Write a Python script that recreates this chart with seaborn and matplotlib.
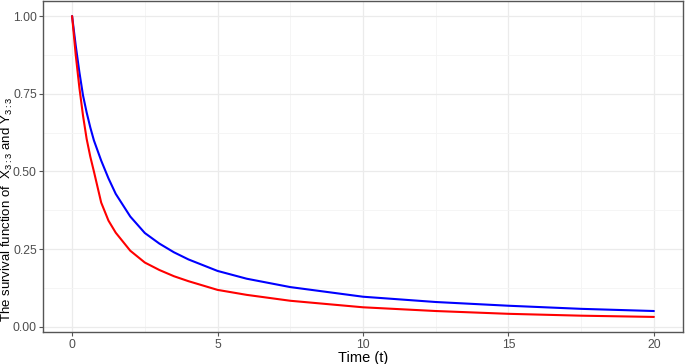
import numpy as np
import pandas as pd
import matplotlib
matplotlib.use("Agg")
import matplotlib.pyplot as plt
import seaborn as sns

# values
time_t = [0, 0.125, 0.25, 0.375, 0.5, 0.625, 0.75, 1.0, 1.25, 1.5, 2.0, 2.5, 3.0,
          3.5, 4.0, 5.0, 6.0, 7.5, 10, 12.5, 15, 17.5, 20]
surv_x = [1.0, 0.905, 0.82, 0.745, 0.69, 0.642, 0.60, 0.535, 0.478, 0.428, 0.355,
          0.302, 0.268, 0.24, 0.217, 0.18, 0.155, 0.128, 0.097, 0.08, 0.068, 0.058,
          0.051]
surv_y = [1.0, 0.875, 0.77, 0.68, 0.605, 0.548, 0.5, 0.40, 0.342, 0.303, 0.245,
          0.207, 0.183, 0.163, 0.147, 0.119, 0.103, 0.084, 0.063, 0.051, 0.042,
          0.036, 0.032]
x_ticks = [0, 5, 10, 15, 20]
y_ticks = [0.0, 0.25, 0.5, 0.75, 1.0]

sns.set_theme(style="whitegrid")
plt.rcParams["font.family"] = ["Liberation Sans", "DejaVu Sans"]
plt.rcParams["mathtext.fontset"] = "custom"
plt.rcParams["mathtext.rm"] = "Liberation Sans"
plt.rcParams["mathtext.it"] = "Liberation Sans:italic"
plt.rcParams["mathtext.default"] = "regular"

df = pd.DataFrame({"t": time_t + time_t,
                   "s": surv_x + surv_y,
                   "curve": ["X"] * len(time_t) + ["Y"] * len(time_t)})

fig = plt.figure(figsize=(6.85, 3.64), dpi=100)
ax = fig.add_axes([43 / 685, 1 - 332 / 364, 640 / 685, 331 / 364])

sns.lineplot(data=df, x="t", y="s", hue="curve", palette={"X": "#0000FF", "Y": "#FF0000"},
             linewidth=1.5, legend=False, ax=ax)

ax.set_xlim(-1, 21)
ax.set_ylim(-0.0165, 1.0485)
ax.set_xticks(x_ticks)
ax.set_yticks(y_ticks)
ax.set_xticklabels([str(v) for v in x_ticks])
ax.set_yticklabels([f"{v:.2f}" for v in y_ticks])
ax.set_xticks([2.5, 7.5, 12.5, 17.5], minor=True)
ax.set_yticks([0.125, 0.375, 0.625, 0.875], minor=True)

ax.grid(which="major", color="#EBEBEB", linewidth=0.9)
ax.grid(which="minor", color="#F4F4F4", linewidth=0.6)
ax.set_axisbelow(True)

for sp in ax.spines.values():
    sp.set_color("#555555")
    sp.set_linewidth(1.0)

ax.tick_params(axis="both", which="major", length=3, width=0.8, color="#555555",
               labelsize=8.8, labelcolor="#4D4D4D", pad=2, bottom=True, left=True)
ax.tick_params(axis="y", which="major", pad=1.5)
ax.tick_params(axis="both", which="minor", length=0)

ax.set_xlabel("Time (t)", fontsize=10.5, color="black", labelpad=0)
ax.set_ylabel(r"The survival function of  X$_{3:3}$ and Y$_{3:3}$", fontsize=9.5,
              color="black", va="center")
ax.yaxis.set_label_coords(-0.0555, 0.37)

fig.savefig("out.png", dpi=100)
